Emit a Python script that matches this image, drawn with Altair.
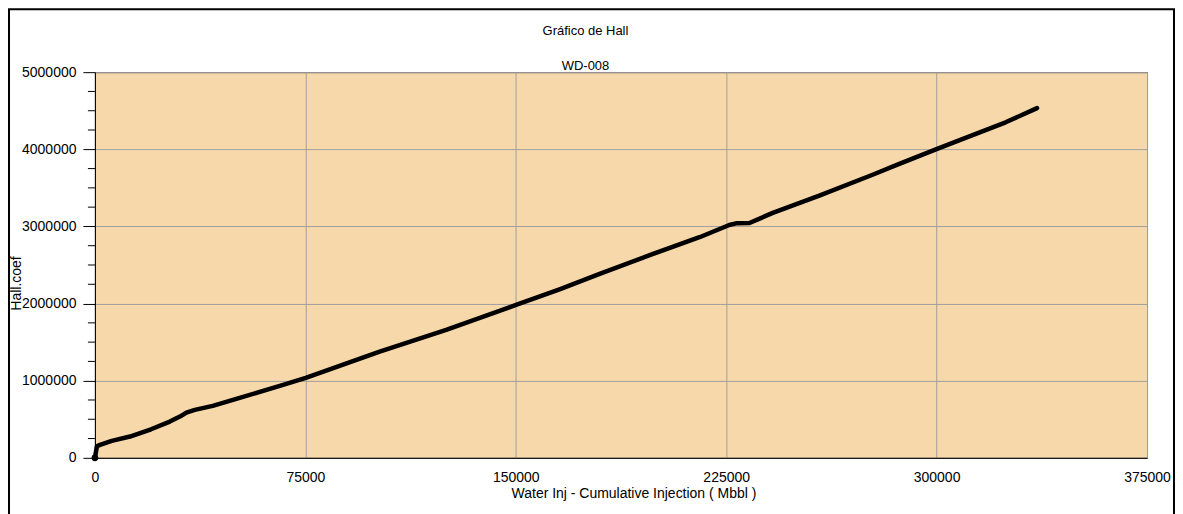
import altair as alt
import pandas as pd

# Cumulative water injection (Mbbl) and Hall coefficient
cum_inj = [0, 700, 1800, 6000, 12500, 20000, 26700, 30300, 32600, 35600, 42000,
           51600, 65900, 75150, 101500, 125200, 150100, 165600, 179900, 198700,
           215500, 226100, 228500, 233300, 241600, 258200, 277200, 286700,
           300200, 308000, 324600, 335800]
hall_coef = [0, 150000, 168000, 220000, 276000, 370000, 470000, 535000, 587000,
             622000, 674000, 777000, 933000, 1036000, 1377000, 1658000, 1982000,
             2185000, 2385000, 2640000, 2860000, 3018000, 3040000, 3045000,
             3175000, 3400000, 3670000, 3810000, 4005000, 4115000, 4350000,
             4534000]

x_ticks = [0, 75000, 150000, 225000, 300000, 375000]
y_ticks = [0, 1000000, 2000000, 3000000, 4000000, 5000000]
y_minor = [v for v in range(0, 5000001, 250000) if v % 1000000 != 0]

title_text = "Gráfico de Hall"
subtitle_text = "WD-008"
x_title = "Water Inj - Cumulative Injection ( Mbbl )"
y_title = "Hall.coef"

FONT = "Liberation Sans"
W, H = 1053, 386

df = pd.DataFrame({"x": cum_inj, "y": hall_coef})
minor_df = pd.DataFrame({"y": y_minor})

xs = alt.Scale(domain=[0, 375000], nice=False, zero=False)
ys = alt.Scale(domain=[0, 5000000], nice=False)

line = alt.Chart(df).mark_line(
    color="black", strokeWidth=4.5, strokeJoin="round", strokeCap="round"
).encode(
    x=alt.X("x:Q", scale=xs, axis=alt.Axis(
        values=x_ticks, format="d", title=x_title, grid=True, labelFlush=False,
        gridColor="#A0A0A0", gridWidth=1, tickSize=0, labelPadding=13,
        domainColor="black", labelFont=FONT, labelFontSize=14, labelColor="black",
        titleFont=FONT, titleFontSize=14, titleFontWeight="normal", titleColor="black",
        titleX=539, titleY=36, titleBaseline="middle", titleAnchor="start",
        titleAlign="center")),
    y=alt.Y("y:Q", scale=ys, axis=alt.Axis(
        values=y_ticks, format="d", title=y_title, grid=True, labelFlush=False,
        gridColor="#A0A0A0", gridWidth=1, tickSize=12, tickColor="black",
        labelPadding=7, domainColor="black", labelFont=FONT, labelFontSize=14,
        labelColor="black", titleFont=FONT, titleFontSize=14,
        titleFontWeight="normal", titleColor="black", titleAngle=-90,
        titleX=-78, titleY=211, titleBaseline="middle", titleAlign="center",
        titleAnchor="start")),
)

start_dot = alt.Chart(df.head(1)).mark_circle(color="black", size=45, opacity=1).encode(
    x=alt.X("x:Q", scale=xs), y=alt.Y("y:Q", scale=ys)
)

minor_ticks = alt.Chart(minor_df).mark_rule(color="black", strokeWidth=1).encode(
    x=alt.value(-7), x2=alt.value(0), y=alt.Y("y:Q", scale=ys)
)

title1 = alt.Chart(alt.Data(values=[{"t": title_text}])).mark_text(
    font=FONT, fontSize=13, color="black", baseline="middle", align="center"
).encode(text="t:N", x=alt.value(491), y=alt.value(-41))
title2 = alt.Chart(alt.Data(values=[{"t": subtitle_text}])).mark_text(
    font=FONT, fontSize=13, color="black", baseline="middle", align="center"
).encode(text="t:N", x=alt.value(491), y=alt.value(-6))

frame = alt.Chart(alt.Data(values=[{}])).mark_rect(
    fillOpacity=0, stroke="black", strokeWidth=2
).encode(x=alt.value(-86), x2=alt.value(1080), y=alt.value(-63), y2=alt.value(445))

chart = alt.layer(frame, minor_ticks, line, start_dot, title1, title2).properties(
    width=W, height=H,
    autosize=alt.AutoSizeParams(type="none"),
    padding={"left": 87, "top": 64, "right": 28, "bottom": 56},
    background="white",
).configure_view(
    fill="#F7D8AA", stroke="#333333", strokeWidth=1
)

chart.save("out.html", embed_options={"renderer": "svg", "actions": False})
